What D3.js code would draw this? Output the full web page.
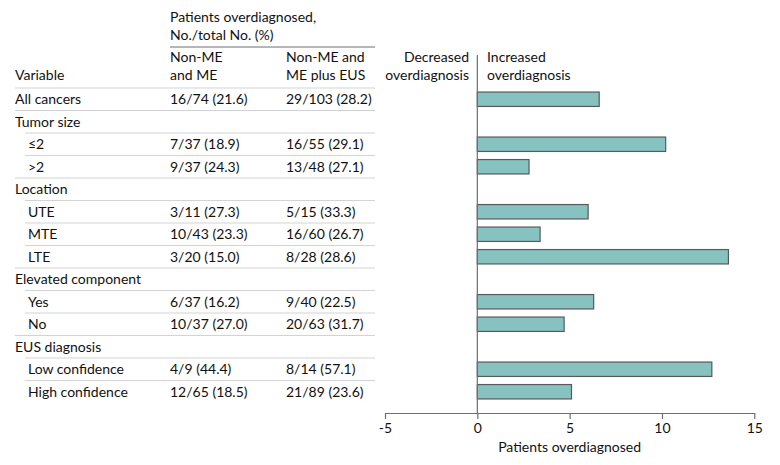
<!DOCTYPE html>
<head>
  <meta charset="utf-8">
  <title>Overdiagnosis</title>
  <script src="https://d3js.org/d3.v7.min.js"></script>
  <style>
    body { margin: 0; background: #fff; }
    text { font-family: Lato, "Liberation Sans", sans-serif; font-size: 14px; fill: #111; }
  </style>
</head>
<body>
  <div id="chart"></div>
  <script>
    // rows of the table
    var variables = ['All cancers', 'Tumor size', '≤2', '>2', 'Location', 'UTE', 'MTE', 'LTE',
      'Elevated component', 'Yes', 'No', 'EUS diagnosis', 'Low confidence', 'High confidence'];
    var indented = [false, false, true, true, false, true, true, true, false, true, true, false, true, true];
    var nonME = ['16/74 (21.6)', '', '7/37 (18.9)', '9/37 (24.3)', '', '3/11 (27.3)', '10/43 (23.3)',
      '3/20 (15.0)', '', '6/37 (16.2)', '10/37 (27.0)', '', '4/9 (44.4)', '12/65 (18.5)'];
    var withEUS = ['29/103 (28.2)', '', '16/55 (29.1)', '13/48 (27.1)', '', '5/15 (33.3)', '16/60 (26.7)',
      '8/28 (28.6)', '', '9/40 (22.5)', '20/63 (31.7)', '', '8/14 (57.1)', '21/89 (23.6)'];
    // bar values (difference in patients overdiagnosed)
    var overdiagnosed = [6.6, null, 10.2, 2.8, null, 6.0, 3.4, 13.6, null, 6.3, 4.7, null, 12.7, 5.1];
    var xTicks = [-5, 0, 5, 10, 15];

    var svg = d3.select('#chart').append('svg')
      .attr('width', 780)
      .attr('height', 465);

    var y = d3.scaleBand().domain(d3.range(variables.length)).range([88, 403]);
    var x = d3.scaleLinear().domain([-5, 15]).range([385, 754.3]);

    // table header
    var head = svg.append('g');
    head.append('text').attr('x', 170).attr('y', 22).text('Patients overdiagnosed,');
    head.append('text').attr('x', 170).attr('y', 40).text('No./total No. (%)');
    head.append('line').attr('x1', 170).attr('x2', 375).attr('y1', 47).attr('y2', 47)
      .attr('stroke', '#6d6e71').attr('stroke-width', 1.2);
    head.append('text').attr('x', 15).attr('y', 80).text('Variable');
    head.append('text').attr('x', 170).attr('y', 62).text('Non-ME');
    head.append('text').attr('x', 170).attr('y', 80).text('and ME');
    head.append('text').attr('x', 286).attr('y', 62).text('Non-ME and');
    head.append('text').attr('x', 286).attr('y', 80).text('ME plus EUS');
    head.append('text').attr('x', 469).attr('y', 62).attr('text-anchor', 'end').text('Decreased');
    head.append('text').attr('x', 469).attr('y', 80).attr('text-anchor', 'end').text('overdiagnosis');
    head.append('text').attr('x', 487).attr('y', 62).text('Increased');
    head.append('text').attr('x', 487).attr('y', 80).text('overdiagnosis');

    // table rows
    var rows = svg.append('g').selectAll('g')
      .data(variables)
      .enter()
      .append('g')
      .attr('transform', function (d, i) { return 'translate(0,' + y(i) + ')'; });

    rows.append('line')
      .attr('x1', function (d, i) { return indented[i] ? 25 : 15; })
      .attr('x2', 375)
      .attr('stroke', '#d1d3d4')
      .attr('stroke-width', 1.2);

    rows.append('text')
      .attr('x', function (d, i) { return indented[i] ? 28 : 15; })
      .attr('y', y.bandwidth() / 2)
      .attr('dy', '0.35em')
      .text(function (d) { return d; });

    rows.append('text')
      .attr('x', 170)
      .attr('y', y.bandwidth() / 2)
      .attr('dy', '0.35em')
      .text(function (d, i) { return nonME[i]; });

    rows.append('text')
      .attr('x', 286)
      .attr('y', y.bandwidth() / 2)
      .attr('dy', '0.35em')
      .text(function (d, i) { return withEUS[i]; });

    // bars
    var barH = y.bandwidth() * 0.64;
    svg.append('g').selectAll('rect')
      .data(overdiagnosed.map(function (v, i) { return { v: v, i: i }; })
        .filter(function (d) { return d.v !== null; }))
      .enter()
      .append('rect')
      .attr('x', x(0))
      .attr('y', function (d) { return y(d.i) + (y.bandwidth() - barH) / 2; })
      .attr('width', function (d) { return x(d.v) - x(0); })
      .attr('height', barH)
      .attr('fill', '#86c2bf')
      .attr('stroke', '#58595b')
      .attr('stroke-width', 1.2);

    // zero line
    svg.append('line')
      .attr('x1', x(0)).attr('x2', x(0))
      .attr('y1', 55).attr('y2', 413)
      .attr('stroke', '#6d6e71')
      .attr('stroke-width', 1.2);

    // x axis
    var axis = svg.append('g')
      .attr('transform', 'translate(0,413)')
      .call(d3.axisBottom(x).tickValues(xTicks).tickSize(6).tickSizeOuter(0).tickPadding(4)
        .tickFormat(function (d) { return String(d); }));
    axis.select('.domain').attr('stroke', '#6d6e71').attr('stroke-width', 1.2);
    axis.selectAll('.tick line').attr('stroke', '#6d6e71').attr('stroke-width', 1.2);
    axis.selectAll('.tick text').style('font-family', 'Lato, sans-serif').style('font-size', '14px')
      .attr('fill', '#111');

    svg.append('text')
      .attr('x', x(5))
      .attr('y', 452)
      .attr('text-anchor', 'middle')
      .text('Patients overdiagnosed');
  </script>
</body>
